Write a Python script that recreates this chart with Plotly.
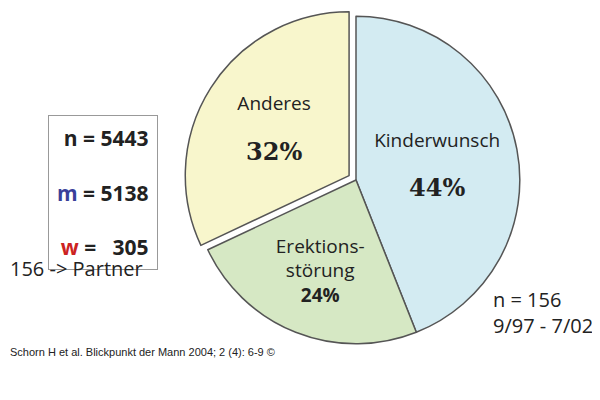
import plotly.graph_objects as go

labels = ["Kinderwunsch", "Erektions-<br>störung", "Anderes"]
values = [44, 24, 32]
pct_labels = ["44%", "24%", "32%"]
colors = ["#d3ebf2", "#d6e8c4", "#f8f6cc"]
pulls = [0, 0, 0.05]

texts = [
    f"{labels[0]}<br><br><span style='font-family:DejaVu Serif;font-size:24px'><b>{pct_labels[0]}</b></span>",
    f"{labels[1]}<br><b>{pct_labels[1]}</b>",
    f"{labels[2]}<br><br><span style='font-family:DejaVu Serif;font-size:24px'><b>{pct_labels[2]}</b></span>",
]

fig = go.Figure(go.Pie(
    values=values, text=texts, textinfo="text",
    sort=False, direction="clockwise", rotation=0,
    pull=pulls,
    marker=dict(colors=colors, line=dict(color="#555555", width=1.5)),
    textposition="inside", insidetextorientation="horizontal",
    textfont=dict(family="Open Sans, Arial", size=19, color="#222222"),
    domain=dict(x=[0.29, 0.87], y=[0.14, 1.0]),
    hoverinfo="skip",
))

fig.add_annotation(
    x=0.25, y=0.54, xref="paper", yref="paper", xanchor="right", yanchor="middle",
    align="right", showarrow=False,
    text="<b>n = 5443</b><br><br><b><span style='color:#3a3f9a'>m</span> = 5138</b><br><br>"
         "<b><span style='color:#cc2222'>w</span> =   305</b>",
    font=dict(family="Open Sans, Arial", size=21, color="#222222"),
    bordercolor="#999999", borderwidth=1, borderpad=8, bgcolor="white",
)
fig.add_annotation(x=0.0, y=0.31, xref="paper", yref="paper", xanchor="left",
                   showarrow=False, text="156 -> Partner",
                   font=dict(family="Open Sans, Arial", size=20, color="#222222"))
fig.add_annotation(x=0.805, y=0.31, xref="paper", yref="paper", xanchor="left",
                   yanchor="top", align="left", showarrow=False,
                   text="n = 156<br>9/97 - 7/02",
                   font=dict(family="Open Sans, Arial", size=20, color="#222222"))
fig.add_annotation(x=0.0, y=0.12, xref="paper", yref="paper", xanchor="left",
                   showarrow=False, text="Schorn H et al. Blickpunkt der Mann 2004; 2 (4): 6-9 ©",
                   font=dict(family="Liberation Sans, Arial", size=11, color="#222222"))

fig.update_layout(width=600, height=400, margin=dict(l=0, r=0, t=0, b=0),
                  showlegend=False, paper_bgcolor="white")
fig.write_html("out.html")
